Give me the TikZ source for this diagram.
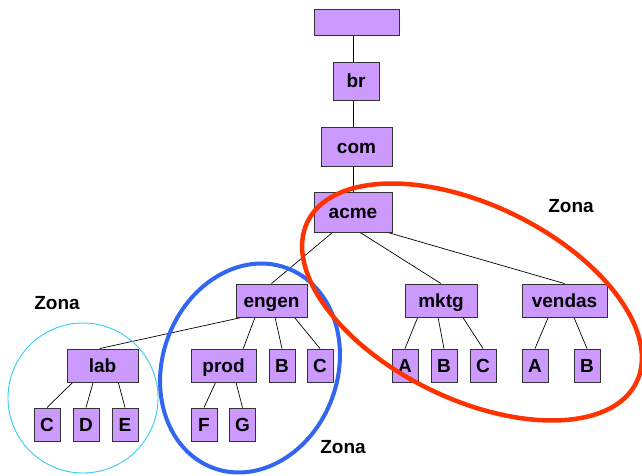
\documentclass[tikz,border=0pt]{standalone}
\usepackage{fontspec}
\setmainfont{Liberation Sans}
\usetikzlibrary{calc,backgrounds}
\definecolor{boxfill}{HTML}{CC99FF}
\definecolor{boxline}{HTML}{333333}
\definecolor{zonered}{HTML}{FF3300}
\definecolor{zoneblue}{HTML}{3366F0}
\definecolor{zonecyan}{HTML}{33CCF5}
\newcommand\branch[3]{\draw[conn] ($(#1.south west)!#2!(#1.south east)$) -- (#3);}
\begin{document}
\begin{tikzpicture}[x=1pt,y=1pt,
  dom/.style={draw=boxline, line width=0.9pt, fill=boxfill, inner sep=0pt,
    text height=14pt, text depth=1pt,
    font=\fontsize{19}{21}\selectfont\bfseries, text=black},
  leaf/.style={dom, minimum width=26pt, minimum height=33pt},
  conn/.style={draw=black, line width=0.7pt},
  zonelabel/.style={font=\fontsize{19}{21}\selectfont\bfseries, inner sep=0pt}]
\useasboundingbox (0,0) rectangle (642,475);

% domain tree
\node[dom, minimum width=85pt, minimum height=26pt] (root) at (356.5,453) {};
\node[dom, minimum width=46pt, minimum height=38pt] (br) at (356,394) {br};
\node[dom, minimum width=71pt, minimum height=39pt] (com) at (356.5,328.5) {com};
\node[dom, minimum width=78pt, minimum height=40pt] (acme) at (353,263) {acme};

\node[dom, minimum width=71pt, minimum height=33pt] (engen) at (271.5,174.5) {engen};
\node[dom, minimum width=72pt, minimum height=33pt] (mktg) at (441,174.5) {mktg};
\node[dom, minimum width=85pt, minimum height=33pt] (vendas) at (564.5,174.5) {vendas};

\node[dom, minimum width=71pt, minimum height=33pt] (lab) at (102.5,109.5) {lab};
\node[dom, minimum width=65pt, minimum height=33pt] (prod) at (223.5,109.5) {prod};
\node[leaf] (eB) at (282,109.5) {B};
\node[leaf] (eC) at (320,109.5) {C};
\node[leaf] (mA) at (405,109.5) {A};
\node[leaf] (mB) at (444,109.5) {B};
\node[leaf] (mC) at (483,109.5) {C};
\node[leaf] (vA) at (535,109.5) {A};
\node[leaf] (vB) at (587,109.5) {B};

\node[leaf] (lC) at (47,50.5) {C};
\node[leaf] (lD) at (86,50.5) {D};
\node[leaf] (lE) at (125,50.5) {E};
\node[leaf] (pF) at (204,50.5) {F};
\node[leaf] (pG) at (242.5,50.5) {G};

% connectors, behind the boxes
\begin{scope}[on background layer]
  \draw[conn] (root.south -| acme.north) -- (acme.north);
  \branch{acme}{0.24}{engen.north}
  \branch{acme}{0.59}{mktg.north}
  \branch{acme}{0.94}{vendas.north}
  \branch{engen}{0.085}{$(lab.north west)!0.46!(lab.north east)$}
  \branch{engen}{0.27}{$(prod.north west)!0.8!(prod.north east)$}
  \branch{engen}{0.55}{eB.north}
  \branch{engen}{0.82}{eC.north}
  \branch{mktg}{0.18}{mA.north}
  \branch{mktg}{0.46}{mB.north}
  \branch{mktg}{0.8}{mC.north}
  \branch{vendas}{0.31}{vA.north}
  \branch{vendas}{0.61}{vB.north}
  \branch{prod}{0.38}{pF.north}
  \branch{prod}{0.69}{pG.north}
  \branch{lab}{0.085}{lC.north}
  \branch{lab}{0.37}{lD.north}
  \branch{lab}{0.72}{lE.north}
\end{scope}

% zones
\draw[zonecyan, line width=0.9pt] (83,77) circle [radius=75];
\draw[zoneblue, line width=4pt, rotate around={-20:(250,107)}]
  (250,107) ellipse [x radius=87.5, y radius=106.5];
\draw[zonered, line width=4.5pt, rotate around={-26:(472,173)}]
  (472,173) ellipse [x radius=183, y radius=97];

\node[zonelabel] (zleft) at (57,172) {Zona};
\node[zonelabel] (zright) at (571,269) {Zona};
\node[zonelabel] (zbottom) at (343,28) {Zona};
\end{tikzpicture}
\end{document}
